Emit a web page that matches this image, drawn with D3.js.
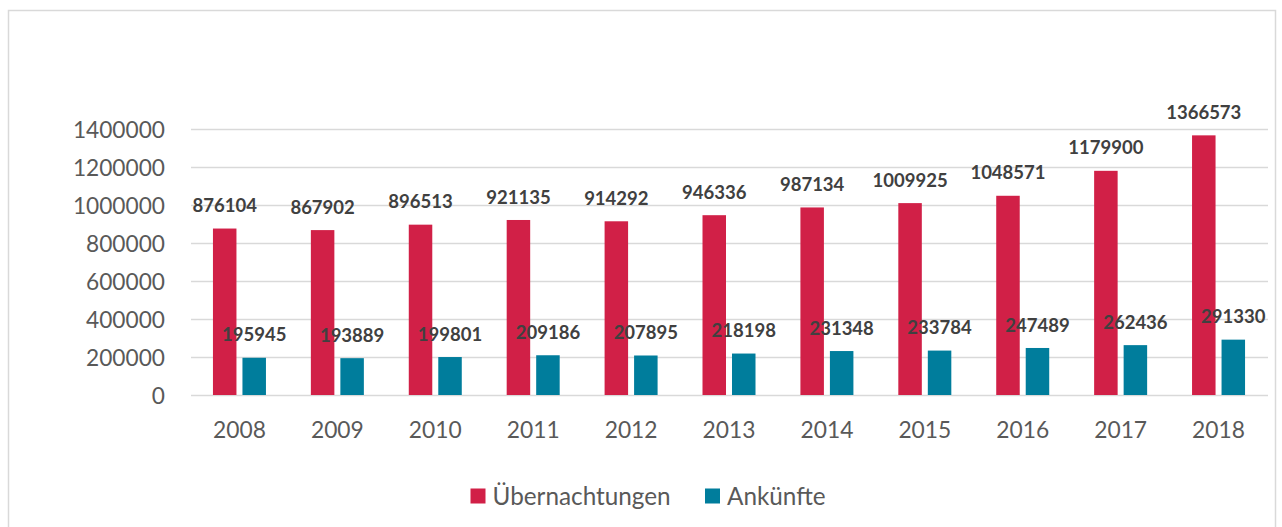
<!DOCTYPE html>
<html><head><meta charset="utf-8">
<script src="https://cdn.jsdelivr.net/npm/d3@7"></script>
<style>body{margin:0;background:#fff}svg{display:block;font-family:Lato,"Open Sans",sans-serif}</style>
</head><body><svg id="c" width="1282" height="527"></svg>
<script>
const years = ["2008","2009","2010","2011","2012","2013","2014","2015","2016","2017","2018"];
const uebernachtungen = [876104,867902,896513,921135,914292,946336,987134,1009925,1048571,1179900,1366573];
const ankuenfte = [195945,193889,199801,209186,207895,218198,231348,233784,247489,262436,291330];
const seriesNames = ["Übernachtungen","Ankünfte"];
const yTicks = [0,200000,400000,600000,800000,1000000,1200000,1400000];
const colors = ["#D12047","#007D9C"];

const svg = d3.select("#c");
svg.append("rect").attr("x",8.5).attr("y",10.5).attr("width",1267).attr("height",540)
  .attr("fill","#fff").attr("stroke","#d9d9d9").attr("stroke-width",1.5);

const x = d3.scaleBand().domain(years).range([191,1268]);
const y = d3.scaleLinear().domain([0,1400000]).range([395,129]);

// gridlines
svg.append("g").selectAll("line").data(yTicks).join("line")
  .attr("x1",191).attr("x2",1268).attr("y1",d=>Math.round(y(d))+0.5).attr("y2",d=>Math.round(y(d))+0.5)
  .attr("stroke","#d9d9d9").attr("stroke-width",1.5);

// y axis labels
const ya = svg.append("g").attr("transform","translate(173,0)")
  .call(d3.axisLeft(y).tickValues(yTicks).tickSize(0).tickPadding(8).tickFormat(d3.format("d")));
ya.select(".domain").remove();
ya.selectAll("text").attr("font-size",22.7).attr("fill","#595959").attr("font-family","Lato, sans-serif").attr("dy","0.36em");

// x axis labels
const xa = svg.append("g").attr("transform","translate(0,395)")
  .call(d3.axisBottom(x).tickSize(0));
xa.select(".domain").remove();
xa.selectAll("text").attr("font-size",22.8).attr("fill","#595959").attr("font-family","Lato, sans-serif")
  .attr("y",34.5).attr("dy","0.36em").attr("dx",-0.5);

const bw = 23.5, gap = 6;
const data = years.map((yr,i)=>({yr, vals:[uebernachtungen[i], ankuenfte[i]]}));
const g = svg.append("g");
data.forEach(d=>{
  const cx = x(d.yr) + x.bandwidth()/2 - 0.5;
  d.vals.forEach((v,j)=>{
    const bx = j===0 ? cx - gap/2 - bw : cx + gap/2;
    g.append("rect").attr("x",bx).attr("y",y(v)).attr("width",bw).attr("height",y(0)-y(v))
      .attr("fill",colors[j]);
    g.append("text").attr("x",bx+bw/2).attr("y",y(v)-23).attr("dy","0.36em")
      .attr("text-anchor","middle").attr("font-size",18.5).attr("font-weight","bold")
      .attr("fill","#404040").text(v);
  });
});

// legend
const leg = svg.append("g");
const legX = [470.5,705];
seriesNames.forEach((n,j)=>{
  leg.append("rect").attr("x",legX[j]).attr("y",488.5).attr("width",15).attr("height",15).attr("fill",colors[j]);
  leg.append("text").attr("x",legX[j]+22).attr("y",505).attr("font-size",24.3).attr("fill","#595959").text(n);
});
</script></body></html>
